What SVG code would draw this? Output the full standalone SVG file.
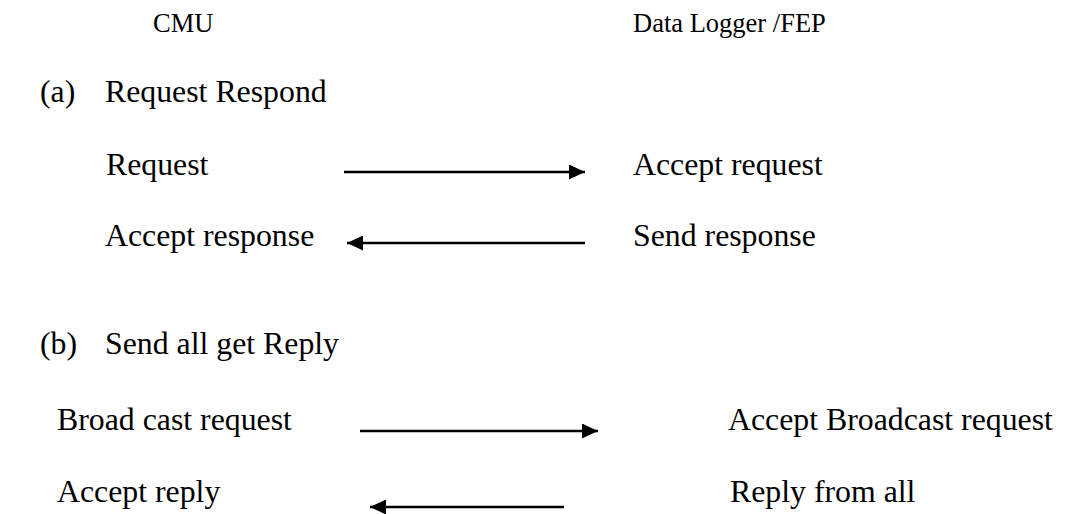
<svg xmlns="http://www.w3.org/2000/svg" width="1065" height="514" viewBox="0 0 1065 514">
<defs>
<style>
text { font-family: "Liberation Serif", "Times New Roman", serif; fill: #000; }
.h { font-size: 26.5px; }
.t { font-size: 31.8px; }
.c line { stroke: #000; stroke-width: 2.5; marker-end: url(#ah); }
</style>
<marker id="ah" viewBox="0 0 16 15" refX="16" refY="7.5" markerWidth="16" markerHeight="15" markerUnits="userSpaceOnUse" orient="auto">
<path d="M0,0 L16,7.5 L0,15 Z" fill="#000"/>
</marker>
</defs>
<rect width="1065" height="514" fill="#fff"/>
<g id="hdr-cmu"><text class="h" x="153" y="32">CMU</text></g>
<g id="hdr-dl"><text class="h" x="633" y="32">Data Logger /FEP</text></g>
<g id="sec-a"><text class="t" x="40" y="102">(a)</text><text class="t" x="105" y="102">Request Respond</text></g>
<g id="n-request"><text class="t" x="106" y="175">Request</text></g>
<g id="n-accept-request"><text class="t" x="633" y="175">Accept request</text></g>
<g id="n-accept-response"><text class="t" x="105" y="246">Accept response</text></g>
<g id="n-send-response"><text class="t" x="633" y="246">Send response</text></g>
<g id="sec-b"><text class="t" x="40" y="354">(b)</text><text class="t" x="105" y="354">Send all get Reply</text></g>
<g id="n-broadcast"><text class="t" x="57" y="430">Broad cast request</text></g>
<g id="n-accept-broadcast"><text class="t" x="728" y="430">Accept Broadcast request</text></g>
<g id="n-accept-reply"><text class="t" x="57" y="502">Accept reply</text></g>
<g id="n-reply-all"><text class="t" x="730" y="502">Reply from all</text></g>
<g id="connectors" class="c">
<line x1="344" y1="172" x2="585" y2="172"/>
<line x1="585" y1="243" x2="347" y2="243"/>
<line x1="360" y1="431" x2="598" y2="431"/>
<line x1="564" y1="507" x2="370" y2="507"/>
</g>
</svg>
